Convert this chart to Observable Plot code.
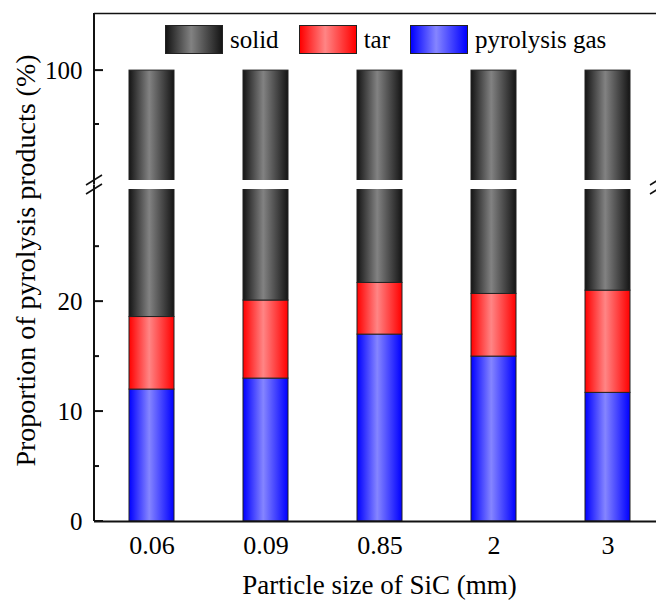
<!DOCTYPE html>
<html><head><meta charset="utf-8">
<script src="https://cdn.jsdelivr.net/npm/d3@7"></script>
<script src="https://cdn.jsdelivr.net/npm/@observablehq/plot@0.6"></script>
<style>
html,body{margin:0;padding:0;background:#fff;overflow:hidden}
#wrap{position:relative;width:656px;height:600px;background:#fff}
#wrap svg{position:absolute;left:0;top:0}
#legend{position:absolute;left:165px;top:25px;display:flex;align-items:center;font-family:"Liberation Serif",serif;font-size:25px;color:#000}
.sw{width:56px;height:27px;border:1px solid #222;box-sizing:content-box}
.lab{margin-left:7px;margin-right:20px;line-height:28px}
</style></head><body><div id="wrap"><div id="legend"></div></div>
<script>
// ---- data ----
const sizes = ["0.06", "0.09", "0.85", "2", "3"];
const gas   = [12.0, 13.0, 17.0, 15.0, 11.7];
const tar   = [6.6, 7.1, 4.7, 5.7, 9.3];
const solid = [81.4, 79.9, 78.3, 79.3, 79.0];
const seriesNames = ["pyrolysis gas", "tar", "solid"];
const legendOrder = ["solid", "tar", "pyrolysis gas"];
const lowerMajor = [0, 10, 20], lowerMinor = [5, 15, 25];
const upperMajor = [100], upperMinor = [95];
const lowTop = 30.2, upBottom = 89.8, yTop = 105.3;

const gradId = {"solid": "g-solid", "tar": "g-tar", "pyrolysis gas": "g-gas"};
const gradCols = {"solid": ["#151515", "#828282"], "tar": ["#ff0000", "#ff8585"], "pyrolysis gas": ["#0000ff", "#8585ff"]};

const rows = [];
sizes.forEach((s, i) => {
  rows.push({size: s, type: "pyrolysis gas", value: gas[i]});
  rows.push({size: s, type: "tar", value: tar[i]});
  rows.push({size: s, type: "solid", value: solid[i]});
});

function defs(suffix) {
  return () => {
    const g = d3.create("svg:defs");
    for (const k of seriesNames) {
      const lg = g.append("linearGradient").attr("id", gradId[k] + suffix).attr("x1", "0").attr("x2", "1").attr("y1", "0").attr("y2", "0");
      lg.append("stop").attr("offset", "0%").attr("stop-color", gradCols[k][0]);
      lg.append("stop").attr("offset", "45%").attr("stop-color", gradCols[k][1]);
      lg.append("stop").attr("offset", "100%").attr("stop-color", gradCols[k][0]);
    }
    return g.node();
  };
}

function decor(major, minor, axisFrom, axisTo, breakVal) {
  return (...args) => {
    const sc = args.find(a => a && typeof a.y === "function");
    const dims = args.find(a => a && typeof a.marginLeft === "number" && typeof a.width === "number");
    const y = sc.y;
    const x0 = dims.marginLeft;
    const g = d3.create("svg:g").attr("stroke", "#111").attr("fill", "none");
    g.append("line").attr("x1", x0).attr("x2", x0).attr("y1", y(axisFrom)).attr("y2", y(axisTo)).attr("stroke-width", 2);
    for (const v of major) g.append("line").attr("x1", x0).attr("x2", x0 + 9).attr("y1", y(v)).attr("y2", y(v)).attr("stroke-width", 2);
    for (const v of minor) g.append("line").attr("x1", x0).attr("x2", x0 + 5).attr("y1", y(v)).attr("y2", y(v)).attr("stroke-width", 2);
    for (const xb of [x0, dims.width + 2]) {
      const yb = y(breakVal);
      g.append("line").attr("x1", xb - 8).attr("y1", yb + 5).attr("x2", xb + 8).attr("y2", yb - 5).attr("stroke-width", 1.5);
    }
    return g.node();
  };
}

const xScale = {type: "band", domain: sizes, range: [93, 665.5], paddingInner: 0.607, paddingOuter: 0.3035, align: 0.5, label: null};
const common = {
  width: 656,
  height: 600,
  marginLeft: 94,
  marginRight: 0,
  style: {fontFamily: '"Liberation Serif", serif', color: "#000", background: "transparent"},
  color: {type: "identity"}
};

const lower = Plot.plot({
  ...common,
  x: xScale,
  marginTop: 189,
  marginBottom: 79,
  y: {domain: [0, lowTop], label: null},
  marks: [
    defs("-lo"),
    Plot.barY(rows, {x: "size", y: "value", fill: d => `url(#${gradId[d.type]}-lo)`, z: "type", stroke: "#222", strokeWidth: 1, clip: true}),
    Plot.ruleY([0], {stroke: "#111", strokeWidth: 2}),
    Plot.axisY({ticks: lowerMajor, tickSize: 0, tickPadding: 12, fontSize: 25, label: null}),
    Plot.axisX({tickSize: 0, tickPadding: 14, fontSize: 26, label: null}),
    Plot.text(["Particle size of SiC (mm)"], {frameAnchor: "bottom", dx: 4, dy: 64, fontSize: 27, lineAnchor: "middle"}),
    Plot.text(["Proportion of pyrolysis products (%)"], {frameAnchor: "left", textAnchor: "middle", rotate: -90, dx: -68, dy: -95, fontSize: 28, lineAnchor: "middle"}),
    decor(lowerMajor, lowerMinor, 0, lowTop + 0.4, lowTop)
  ]
});

const upper = Plot.plot({
  ...common,
  x: {...xScale, axis: null},
  marginTop: 13,
  marginBottom: 420,
  y: {domain: [upBottom, yTop], label: null},
  marks: [
    defs("-up"),
    Plot.barY(rows, {x: "size", y: "value", fill: d => `url(#${gradId[d.type]}-up)`, z: "type", stroke: "#222", strokeWidth: 1, clip: true}),
    Plot.ruleY([yTop], {stroke: "#111", strokeWidth: 1.5}),
    Plot.axisY({ticks: upperMajor, tickSize: 0, tickPadding: 12, fontSize: 25, label: null}),
    decor(upperMajor, upperMinor, upBottom - 0.4, yTop, upBottom)
  ]
});

const wrap = document.getElementById("wrap");
wrap.prepend(upper);
wrap.prepend(lower);

const leg = d3.select("#legend");
for (const k of legendOrder) {
  leg.append("div").attr("class", "sw").style("background", `linear-gradient(to right, ${gradCols[k][0]} 0%, ${gradCols[k][1]} 45%, ${gradCols[k][0]} 100%)`);
  leg.append("span").attr("class", "lab").text(k);
}
</script>
</body></html>
